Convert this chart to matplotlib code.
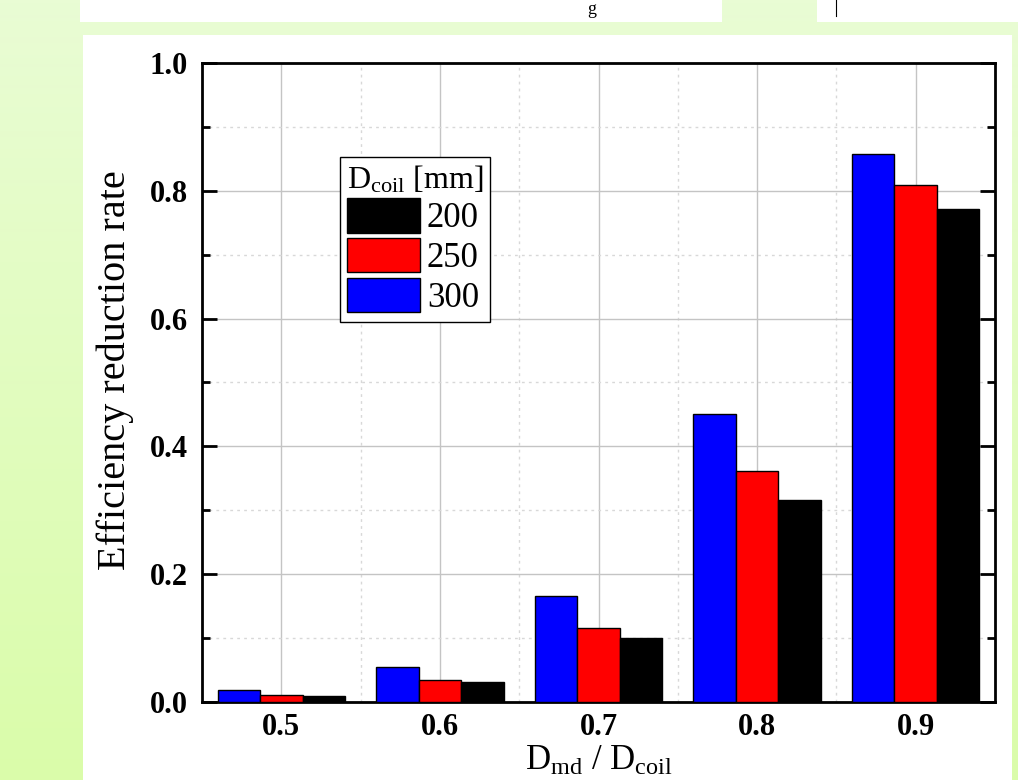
import numpy as np
import matplotlib
matplotlib.use("Agg")
import matplotlib.pyplot as plt
from matplotlib.patches import Rectangle, Patch
from matplotlib.lines import Line2D

# data
ratios = [0.5, 0.6, 0.7, 0.8, 0.9]
d_coil = ["200", "250", "300"]
eff_200 = [0.009, 0.031, 0.100, 0.316, 0.772]
eff_250 = [0.0105, 0.035, 0.116, 0.361, 0.809]
eff_300 = [0.018, 0.054, 0.166, 0.451, 0.858]
colors = {"200": "#000000", "250": "#ff0000", "300": "#0000ff"}

plt.rcParams["font.family"] = ["Liberation Serif", "DejaVu Serif"]
plt.rcParams["mathtext.fontset"] = "custom"
plt.rcParams["mathtext.rm"] = "Liberation Serif"
plt.rcParams["mathtext.it"] = "Liberation Serif:italic"

W, H = 1018, 780
fig = plt.figure(figsize=(W / 100, H / 100), dpi=100)

# slide background: green gradient with white panels
bg = fig.add_axes([0, 0, 1, 1], zorder=-10)
bg.set_xlim(0, W)
bg.set_ylim(H, 0)
bg.axis("off")
grad = np.linspace(0, 1, 256)[:, None]
top_c = np.array([233, 252, 212]) / 255
bot_c = np.array([218, 252, 170]) / 255
img = top_c[None, None, :] * (1 - grad[:, :, None]) + bot_c[None, None, :] * grad[:, :, None]
bg.imshow(img, extent=[0, W, H, 0], aspect="auto")
bg.add_patch(Rectangle((83, 35), 929, H - 35, color="white", lw=0))
bg.add_patch(Rectangle((80, 0), 642, 22, color="white", lw=0))
bg.add_patch(Rectangle((817, 0), W - 817, 22, color="white", lw=0))
bg.add_line(Line2D([836, 836], [0, 16], color="black", lw=0.8))
bg.text(592, 1, "g", fontsize=13, ha="center", va="top", color="black")

ax = fig.add_axes([202 / W, 78 / H, (995 - 202) / W, (702 - 63) / H])

x = np.array(ratios)
bw = 0.0268
ax.bar(x - bw, eff_300, bw, color=colors["300"], edgecolor="black", lw=1, zorder=3)
ax.bar(x, eff_250, bw, color=colors["250"], edgecolor="black", lw=1, zorder=3)
ax.bar(x + bw, eff_200, bw, color=colors["200"], edgecolor="black", lw=1, zorder=3)

ax.set_xlim(0.45, 0.95)
ax.set_ylim(0, 1.0)
ax.set_xticks(ratios)
ax.set_xticklabels([f"{r:.1f}" for r in ratios])
ax.set_xticks([0.55, 0.65, 0.75, 0.85], minor=True)
ax.set_yticks(np.arange(0, 1.01, 0.2))
ax.set_yticks(np.arange(0.1, 1.0, 0.2), minor=True)
ax.set_yticklabels([f"{v:.1f}" for v in np.arange(0, 1.01, 0.2)])

ax.grid(which="major", color="#c4c4c4", lw=1, zorder=0)
ax.grid(which="minor", color="#d8d8d8", lw=1, ls=(0, (2, 3)), zorder=0)
ax.set_axisbelow(True)

ax.tick_params(axis="x", which="both", length=0, pad=8, labelsize=22)
ax.tick_params(axis="y", which="major", direction="in", length=11, width=2,
               left=True, right=True, pad=10, labelsize=22)
ax.tick_params(axis="y", which="minor", direction="in", length=6, width=2,
               left=True, right=True)
for lab in ax.get_xticklabels() + ax.get_yticklabels():
    lab.set_fontweight("bold")
for s in ax.spines.values():
    s.set_linewidth(2)

ax.set_ylabel("Efficiency reduction rate", fontsize=29)
ax.yaxis.set_label_coords(-0.086, 0.52)
ax.set_xlabel(r"D$_{\rm md}$ / D$_{\rm coil}$", fontsize=25, labelpad=2)

handles = [Patch(facecolor=colors[d], edgecolor="black", lw=1) for d in d_coil]
leg = ax.legend(handles, d_coil, title=r"D$_{\rm coil}$ [mm]", loc="upper left",
                bbox_to_anchor=((340 - 202) / (995 - 202), 1 - (157 - 63) / (702 - 63)),
                fontsize=25, title_fontsize=23, frameon=True, fancybox=False,
                edgecolor="black", framealpha=1, handlelength=2.1, handleheight=1.15,
                handletextpad=0.2, labelspacing=0.08, borderpad=0.2,
                borderaxespad=0, alignment="left")
leg.get_frame().set_linewidth(1)

fig.savefig("out.png", dpi=100)
